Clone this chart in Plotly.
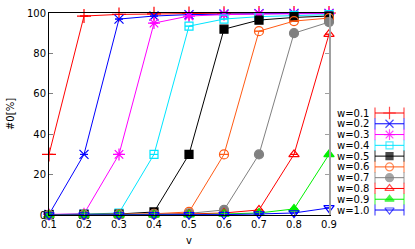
import plotly.graph_objects as go

v = [0.1, 0.2, 0.3, 0.4, 0.5, 0.6, 0.7, 0.8, 0.9]
names = ["w=0.1", "w=0.2", "w=0.3", "w=0.4", "w=0.5", "w=0.6", "w=0.7", "w=0.8", "w=0.9", "w=1.0"]
w01 = [30, 98.5, 99.3, 99.6, 99.8, 99.9, 100, 100, 100]
w02 = [0.3, 30, 97, 98.5, 99.2, 99.5, 99.7, 99.8, 99.8]
w03 = [0.3, 0.6, 30, 95, 98.5, 99.2, 99.5, 99.6, 99.7]
w04 = [0.2, 0.4, 1, 30, 93.5, 97, 98.2, 98.8, 99.2]
w05 = [0.2, 0.3, 0.5, 1.5, 30, 92, 96.5, 97.8, 98.5]
w06 = [0.1, 0.2, 0.3, 0.6, 1.5, 30, 91, 96, 97.5]
w07 = [0.1, 0.1, 0.2, 0.4, 0.8, 2.5, 30, 90, 95.5]
w08 = [0.1, 0.1, 0.2, 0.3, 0.5, 1, 2.5, 30, 89.5]
w09 = [0, 0, 0.1, 0.1, 0.2, 0.5, 1, 3, 30]
w10 = [0, 0, 0, 0.1, 0.1, 0.2, 0.5, 1, 3.5]
series = [w01, w02, w03, w04, w05, w06, w07, w08, w09, w10]

colors = ["#ff0000", "#0000ff", "#ff00ff", "#00e5ff", "#000000",
          "#ff5a14", "#808080", "#ff0000", "#00f000", "#0000ff"]
symbols = ["cross-thin-open", "x-thin-open", "asterisk-open", "square-open", "square",
           "circle-open", "circle", "triangle-up-open", "triangle-up", "triangle-down-open"]
sizes = [10, 9, 10, 8, 8, 9, 9, 9, 9, 9]

FONT = "DejaVu Sans"
W, H = 415, 249
ML, MR, MT, MB = 49, 8, 13, 34
PW, PH = W - ML - MR, H - MT - MB

fig = go.Figure()

for i, (nm, ys) in enumerate(zip(names, series)):
    fig.add_trace(go.Scatter(
        x=v, y=ys, mode="lines+markers", name=nm, showlegend=False,
        line=dict(color=colors[i], width=1),
        marker=dict(symbol=symbols[i], size=sizes[i], color=colors[i],
                    line=dict(color=colors[i], width=1.2)),
        error_y=dict(type="constant", value=0, width=4, thickness=1, color=colors[i]),
        cliponaxis=False, xaxis="x", yaxis="y"))

# manual gnuplot-style key (text left, sample right)
ROW0, ROWSTEP = 113, 10.78  # pixel row of first key entry and spacing
for i, nm in enumerate(names):
    yy = -i
    fig.add_trace(go.Scatter(
        x=[0, 0.5, 1], y=[yy, yy, yy], mode="lines+markers", showlegend=False,
        line=dict(color=colors[i], width=1),
        marker=dict(symbol=["line-ns-open", symbols[i], "line-ns-open"],
                    size=[8, sizes[i] - 1, 8], color=colors[i],
                    line=dict(color=colors[i], width=1.2)),
        cliponaxis=False, xaxis="x3", yaxis="y3", hoverinfo="skip"))
    fig.add_annotation(x=(371 - ML) / PW, y=(H - MB - (ROW0 + i * ROWSTEP)) / PH,
                       xref="paper", yref="paper", text=nm, showarrow=False,
                       xanchor="right", yanchor="middle",
                       font=dict(family=FONT, size=10, color="#000000"))

top_rows = (ROW0 - MT) / ROWSTEP
span_rows = PH / ROWSTEP
hidden = dict(showgrid=False, zeroline=False, showline=False, showticklabels=False, ticks="")

fig.update_layout(
    width=W, height=H,
    margin=dict(l=ML, r=MR, t=MT, b=MB, autoexpand=False),
    paper_bgcolor="white", plot_bgcolor="white",
    font=dict(family=FONT, size=10, color="#000000"),
    xaxis=dict(domain=[0, 280 / PW], range=[0.1, 0.9], tickvals=v,
               ticktext=["%.1f" % t for t in v],
               showgrid=False, zeroline=False, showline=True, linecolor="#000000",
               linewidth=1, mirror=True, ticks="inside", ticklen=4, tickcolor="#808080",
               title=dict(text="v", font=dict(family=FONT, size=10), standoff=7)),
    yaxis=dict(range=[0, 100], tickvals=[0, 20, 40, 60, 80, 100],
               showgrid=False, zeroline=False, showline=True, linecolor="#000000",
               linewidth=1, ticks="inside", ticklen=4, tickcolor="#808080",
               title=dict(text="#0[%]", font=dict(family=FONT, size=10), standoff=10)),
    yaxis2=dict(overlaying="y", side="right", anchor="x", range=[0, 100],
                tickvals=[0, 20, 40, 60, 80, 100], showticklabels=False,
                showgrid=False, zeroline=False, showline=True, linecolor="#a0a0a0",
                linewidth=1.5, ticks="inside", ticklen=4, tickcolor="#a0a0a0"),
    xaxis3=dict(domain=[(375 - ML) / PW, (404 - ML) / PW], range=[0, 1], anchor="y3", **hidden),
    yaxis3=dict(domain=[0, 1], range=[top_rows - span_rows, top_rows], anchor="x3", **hidden),
)
fig.add_trace(go.Scatter(x=[0.5], y=[50], yaxis="y2", xaxis="x", mode="markers",
                         marker=dict(opacity=0), showlegend=False, hoverinfo="skip"))

fig.write_html("out.html", config={"displayModeBar": False},
               post_script="document.body.style.margin='0';")
